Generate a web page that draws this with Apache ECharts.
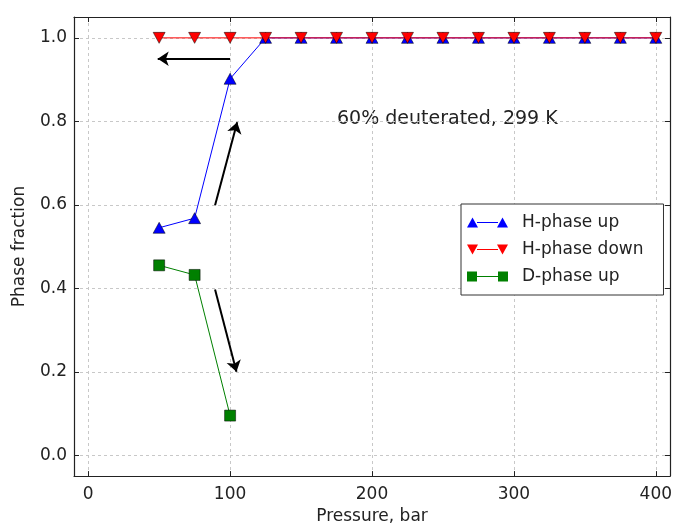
<!DOCTYPE html>
<html>
<head>
<meta charset="utf-8">
<script src="https://cdn.jsdelivr.net/npm/echarts@6/dist/echarts.min.js"></script>
<style>html,body{margin:0;padding:0;background:#fff}#c{width:676px;height:530px}</style>
</head>
<body>
<div id="c"></div>
<script>
// ---- data ----
const pressureHUp   = [50, 75, 100, 125, 150, 175, 200, 225, 250, 275, 300, 325, 350, 375, 400];
const fractionHUp   = [0.545, 0.568, 0.902, 1.0, 1.0, 1.0, 1.0, 1.0, 1.0, 1.0, 1.0, 1.0, 1.0, 1.0, 1.0];
const pressureHDown = [50, 75, 100, 125, 150, 175, 200, 225, 250, 275, 300, 325, 350, 375, 400];
const fractionHDown = [1.0, 1.0, 1.0, 1.0, 1.0, 1.0, 1.0, 1.0, 1.0, 1.0, 1.0, 1.0, 1.0, 1.0, 1.0];
const pressureDUp   = [50, 75, 100];
const fractionDUp   = [0.455, 0.432, 0.095];
const seriesNames   = ['H-phase up', 'H-phase down', 'D-phase up'];
// annotation arrows: [tailX, tailY, headX, headY]
const arrows = [
  [100, 0.950, 49, 0.950],
  [89.4, 0.599, 105, 0.798],
  [89.4, 0.397, 104.5, 0.200]
];
const annotationText = '60% deuterated, 299 K';

const zip = (xs, ys) => xs.map((x, i) => [x, ys[i]]);
const FONT = 'DejaVu Sans';
const TXT = '#222';

const chart = echarts.init(document.getElementById('c'), null, {renderer: 'canvas'});

const commonX = {min: -10, max: 410, splitNumber: 4};
const commonY = {min: -0.05, max: 1.05, splitNumber: 5};
const axisLine = {show: true, onZero: false, lineStyle: {color: '#222', width: 1.2}};
const tick = {show: true, inside: true, length: 5, lineStyle: {color: '#222', width: 1}};

const upPair = 'path://M0,11 L5.5,1 L11,11 Z M30,11 L35.5,1 L41,11 Z M10,5.6 L31,5.6 L31,6.4 L10,6.4 Z';
const downPair = 'path://M0,1 L5.5,11 L11,1 Z M30,1 L35.5,11 L41,1 Z M10,5.6 L31,5.6 L31,6.4 L10,6.4 Z';
const rectPair = 'path://M0,1 L10,1 L10,11 L0,11 Z M31,1 L41,1 L41,11 L31,11 Z M10,5.6 L31,5.6 L31,6.4 L10,6.4 Z';
const legendItemStyle = {borderWidth: 0, borderColor: 'transparent'};

chart.setOption({
  animation: false,
  backgroundColor: '#fff',
  textStyle: {fontFamily: FONT},
  grid: {left: 74, top: 17, right: 6, bottom: 49, containLabel: false},
  xAxis: [
    Object.assign({
      type: 'value', position: 'bottom',
      name: 'Pressure, bar', nameLocation: 'middle', nameGap: 27,
      nameTextStyle: {fontFamily: FONT, fontSize: 17, color: TXT},
      axisLine: axisLine, axisTick: tick,
      axisLabel: {fontFamily: FONT, fontSize: 17, color: TXT, margin: 10, showMinLabel: false, showMaxLabel: false},
      splitLine: {show: true, lineStyle: {color: '#c8c8c8', type: [3, 3], width: 1}}
    }, commonX),
    Object.assign({
      type: 'value', position: 'top',
      axisLine: axisLine, axisTick: tick,
      axisLabel: {show: false}, splitLine: {show: false}
    }, commonX)
  ],
  yAxis: [
    Object.assign({
      type: 'value', position: 'left',
      name: 'Phase fraction', nameLocation: 'middle', nameGap: 46,
      nameTextStyle: {fontFamily: FONT, fontSize: 17, color: TXT},
      axisLine: axisLine, axisTick: tick,
      axisLabel: {fontFamily: FONT, fontSize: 17, color: TXT, margin: 7, showMinLabel: false, showMaxLabel: false,
        formatter: v => v.toFixed(1)},
      splitLine: {show: true, lineStyle: {color: '#c8c8c8', type: [3, 3], width: 1}}
    }, commonY),
    Object.assign({
      type: 'value', position: 'right',
      axisLine: axisLine, axisTick: tick,
      axisLabel: {show: false}, splitLine: {show: false}
    }, commonY)
  ],
  legend: {
    orient: 'vertical', left: 461, top: 204,
    backgroundColor: '#fff', borderColor: '#333', borderWidth: 1,
    padding: [10, 20, 10, 6], itemGap: 10,
    itemWidth: 41, itemHeight: 11,
    textStyle: {fontFamily: FONT, fontSize: 17, color: TXT, padding: [0, 0, 0, 9]},
    data: [
      {name: seriesNames[0], icon: upPair, itemStyle: legendItemStyle},
      {name: seriesNames[1], icon: downPair, itemStyle: legendItemStyle},
      {name: seriesNames[2], icon: rectPair, itemStyle: legendItemStyle}
    ]
  },
  graphic: [{
    type: 'text', left: 337, top: 110,
    style: {text: annotationText, font: '19px "DejaVu Sans"', fill: TXT}
  }],
  series: [
    {
      name: seriesNames[0], type: 'line', data: zip(pressureHUp, fractionHUp),
      symbol: 'triangle', symbolSize: [12, 11],
      lineStyle: {color: '#0000ff', width: 1},
      itemStyle: {color: '#0000ff', borderColor: '#000', borderWidth: 0.5},
      z: 3
    },
    {
      name: seriesNames[1], type: 'line', data: zip(pressureHDown, fractionHDown),
      symbol: 'triangle', symbolRotate: 180, symbolSize: [12, 11],
      lineStyle: {color: '#ff0000', width: 1},
      itemStyle: {color: '#ff0000', borderColor: '#000', borderWidth: 0.5},
      z: 4
    },
    {
      name: seriesNames[2], type: 'line', data: zip(pressureDUp, fractionDUp),
      symbol: 'rect', symbolSize: 11,
      lineStyle: {color: '#008000', width: 1},
      itemStyle: {color: '#008000', borderColor: '#000', borderWidth: 0.5},
      z: 5
    },
    {
      type: 'lines', coordinateSystem: 'cartesian2d', silent: true,
      symbol: ['none', 'arrow'], symbolSize: [0, 11],
      lineStyle: {color: '#000', width: 2, opacity: 1},
      data: arrows.map(a => ({coords: [[a[0], a[1]], [a[2], a[3]]]})),
      z: 6
    }
  ]
});
</script>
</body>
</html>
